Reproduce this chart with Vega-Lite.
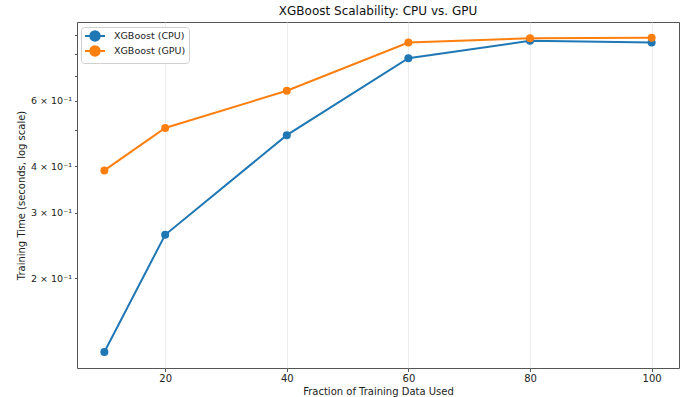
{
  "$schema": "https://vega.github.io/schema/vega-lite/v6.json",
  "autosize": "none",
  "width": 602,
  "height": 346,
  "padding": {"left": 77, "top": 22, "right": 6, "bottom": 29},
  "background": "white",
  "config": {
    "font": "DejaVu Sans",
    "view": {"stroke": "#555", "strokeWidth": 1},
    "axis": {"labelFont": "DejaVu Sans", "titleFont": "DejaVu Sans", "labelColor": "#222", "titleColor": "#222", "tickColor": "#555", "domain": false}
  },
  "title": {"text": "XGBoost Scalability: CPU vs. GPU", "fontSize": 12, "fontWeight": "normal", "font": "DejaVu Sans", "color": "#111", "offset": 4, "anchor": "middle"},
  "data": {"values": [
    {"frac": 10, "time": 0.127, "model": "XGBoost (CPU)"},
    {"frac": 20, "time": 0.262, "model": "XGBoost (CPU)"},
    {"frac": 40, "time": 0.485, "model": "XGBoost (CPU)"},
    {"frac": 60, "time": 0.78, "model": "XGBoost (CPU)"},
    {"frac": 80, "time": 0.869, "model": "XGBoost (CPU)"},
    {"frac": 100, "time": 0.86, "model": "XGBoost (CPU)"},
    {"frac": 10, "time": 0.39, "model": "XGBoost (GPU)"},
    {"frac": 20, "time": 0.507, "model": "XGBoost (GPU)"},
    {"frac": 40, "time": 0.638, "model": "XGBoost (GPU)"},
    {"frac": 60, "time": 0.86, "model": "XGBoost (GPU)"},
    {"frac": 80, "time": 0.883, "model": "XGBoost (GPU)"},
    {"frac": 100, "time": 0.886, "model": "XGBoost (GPU)"}
  ]},
  "mark": {"type": "line", "strokeWidth": 2, "point": {"filled": true, "size": 64, "opacity": 1}},
  "encoding": {
    "x": {
      "field": "frac", "type": "quantitative",
      "scale": {"domain": [5.5, 104.5], "nice": false, "zero": false},
      "axis": {"values": [20, 40, 60, 80, 100], "title": "Fraction of Training Data Used", "titleFontSize": 10, "titleFontWeight": "normal", "labelFontSize": 10, "tickSize": 3.5, "labelPadding": 2, "titlePadding": 3, "grid": true, "gridColor": "#e8e8e8", "gridWidth": 0.8}
    },
    "y": {
      "field": "time", "type": "quantitative",
      "scale": {"type": "log", "domain": [0.115, 0.976], "nice": false, "zero": false},
      "axis": {
        "values": [0.2, 0.3, 0.4, 0.5, 0.6, 0.7, 0.8, 0.9],
        "labelExpr": "datum.value == 0.2 ? '2 × 10⁻¹' : datum.value == 0.3 ? '3 × 10⁻¹' : datum.value == 0.4 ? '4 × 10⁻¹' : datum.value == 0.6 ? '6 × 10⁻¹' : ''",
        "title": "Training Time (seconds, log scale)", "titleFontSize": 10, "titleFontWeight": "normal", "labelFontSize": 9.5, "tickSize": 2.5, "labelPadding": 3, "titlePadding": 4, "grid": false
      }
    },
    "color": {
      "field": "model", "type": "nominal",
      "scale": {"range": ["#1f77b4", "#ff7f0e"]},
      "legend": {
        "title": null, "orient": "none", "legendX": 4, "legendY": 5,
        "labelFontSize": 9.5, "labelFont": "DejaVu Sans", "labelColor": "#222",
        "symbolType": "M-2,0L2,0M0.95,0L0.823,0.475L0.475,0.823L0,0.95L-0.475,0.823L-0.823,0.475L-0.95,0L-0.823,-0.475L-0.475,-0.823L0,-0.95L0.475,-0.823L0.823,-0.475Z",
        "symbolSize": 100, "symbolStrokeWidth": 2, "labelOffset": 13, "symbolOffset": 5,
        "rowPadding": -4, "padding": 3,
        "strokeColor": "#d0d0d0", "fillColor": "white", "cornerRadius": 3,
        "encode": {"symbols": {"update": {"fill": {"scale": "color", "field": "value"}, "fillOpacity": {"value": 1}}}}
      }
    }
  }
}
